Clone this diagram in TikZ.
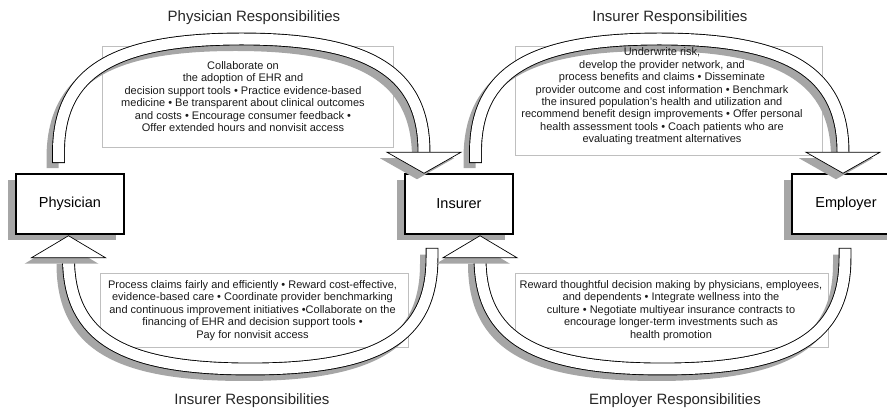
\documentclass[tikz,border=0pt]{standalone}
\usepackage{fontspec}
\setmainfont{Liberation Sans}
\usetikzlibrary{shadows}

\newcommand\band[1]{%
  \draw[bandshade] #1;
  \draw[bandrim] #1;
  \draw[bandface] #1;}

\begin{document}
\begin{tikzpicture}[x=1pt,y=-1pt,
    party/.style={draw,line width=1.5pt,fill=white,minimum width=108pt,minimum height=60pt,
      font=\fontsize{14.5}{16}\selectfont,
      drop shadow={shadow xshift=-8pt,shadow yshift=-6pt,fill=black!35,opacity=1}},
    bandshade/.style={line width=12pt,black!35,transform canvas={xshift=-6pt,yshift=-6pt}},
    bandrim/.style={line width=12.8pt,shorten <=-0.9pt},
    bandface/.style={line width=11pt,white},
    tipface/.style={draw,fill=white,line width=0.7pt},
    tipshade/.style={fill=black!35,transform canvas={xshift=-7pt,yshift=-6pt}},
    noteframe/.style={draw=black!25,line width=0.6pt},
    duty/.style={align=center,text=black!90,font=\fontsize{11}{12.4}\selectfont},
    heading/.style={text=black!85,font=\fontsize{15}{17}\selectfont}]
	\useasboundingbox (0,0) rectangle (887,411);

	\draw[noteframe] (102,46) rectangle (393,147);
	\draw[noteframe] (515,46) rectangle (822,155);
	\draw[noteframe] (100,273) rectangle (408,347);
	\draw[noteframe] (515,273) rectangle (828,347);

	\node[party] (phys) at (70,204) {Physician};
	\node[party] (ins) at (459,204) {Insurer};
	\node[party] (emp) at (846,204) {Employer};

	\coordinate (p-out) at ([xshift=-11.5pt,yshift=11pt]phys.north);
	\coordinate (p-tip) at ([xshift=-1.5pt,yshift=-1pt]phys.south);
	\coordinate (p-in) at ([yshift=-22pt]p-tip);
	\coordinate (i-tip) at ([xshift=-35pt]ins.north);
	\coordinate (i-in) at ([yshift=21pt]i-tip);
	\coordinate (i-out) at ([xshift=16.5pt,yshift=11pt]ins.north);
	\coordinate (i-dn) at ([xshift=-27pt,yshift=-14pt]ins.south);
	\coordinate (i-uptip) at ([xshift=21pt,yshift=-1pt]ins.south);
	\coordinate (i-up) at ([yshift=-22pt]i-uptip);
	\coordinate (e-tip) at ([xshift=-3pt]emp.north);
	\coordinate (e-in) at ([yshift=21pt]e-tip);
	\coordinate (e-dn) at ([xshift=-1pt,yshift=-14pt]emp.south);

	\coordinate (pi-top) at (241.5,39);
	\coordinate (ie-top) at (659.25,39);
	\coordinate (ip-bot) at (250.25,369);
	\coordinate (ei-bot) at (662.5,369);

	\band{(p-out) -- ++(0,-10) .. controls +(0,-80) and +(-128,0) .. (pi-top) .. controls +(128,0) and +(0,-80) .. (i-in)}
	\band{(i-out) -- ++(0,-10) .. controls +(0,-80) and +(-128,0) .. (ie-top) .. controls +(128,0) and +(0,-80) .. (e-in)}
	\band{(i-dn) -- ++(0,9) .. controls +(0,80) and +(128,0) .. (ip-bot) .. controls +(-128,0) and +(0,80) .. (p-in)}
	\band{(e-dn) -- ++(0,9) .. controls +(0,80) and +(128,0) .. (ei-bot) .. controls +(-128,0) and +(0,80) .. (i-up)}

	\foreach \t in {i-tip,e-tip}{
		\fill[tipshade] (\t) ++(-37,-21) -- ++(74,0) -- (\t) -- cycle;
		\draw[tipface] (\t) ++(-37,-21) -- ++(74,0) -- (\t) -- cycle;
	}
	\foreach \t in {p-tip,i-uptip}{
		\fill[tipshade] (\t) ++(-37,22) -- ++(74,0) -- (\t) -- cycle;
		\draw[tipface] (\t) ++(-37,22) -- ++(74,0) -- (\t) -- cycle;
	}

	\node[duty] (pi-duty) at (243,96.5) {Collaborate on\\the adoption of EHR and\\decision support tools • Practice evidence-based\\medicine • Be transparent about clinical outcomes\\and costs • Encourage consumer feedback •\\Offer extended hours and nonvisit access};
	\node[duty] (ie-duty) at (662,96.5) {Underwrite risk,\\develop the provider network, and\\process benefits and claims • Disseminate\\provider outcome and cost information • Benchmark\\the insured population’s health and utilization and\\recommend benefit design improvements • Offer personal\\health assessment tools • Coach patients who are\\evaluating treatment alternatives};
	\node[duty] (ip-duty) at (252.5,310.5) {Process claims fairly and efficiently • Reward cost-effective,\\evidence-based care • Coordinate provider benchmarking\\and continuous improvement initiatives •Collaborate on the\\financing of EHR and decision support tools •\\Pay for nonvisit access};
	\node[duty] (ei-duty) at (671,310.5) {Reward thoughtful decision making by physicians, employees,\\and dependents • Integrate wellness into the\\culture • Negotiate multiyear insurance contracts to\\encourage longer-term investments such as\\health promotion};

	\node[heading] (pi-head) at (254,18) {Physician Responsibilities};
	\node[heading] (ie-head) at (670,18) {Insurer Responsibilities};
	\node[heading] (ip-head) at (252,401) {Insurer Responsibilities};
	\node[heading] (ei-head) at (675,401) {Employer Responsibilities};
\end{tikzpicture}
\end{document}
